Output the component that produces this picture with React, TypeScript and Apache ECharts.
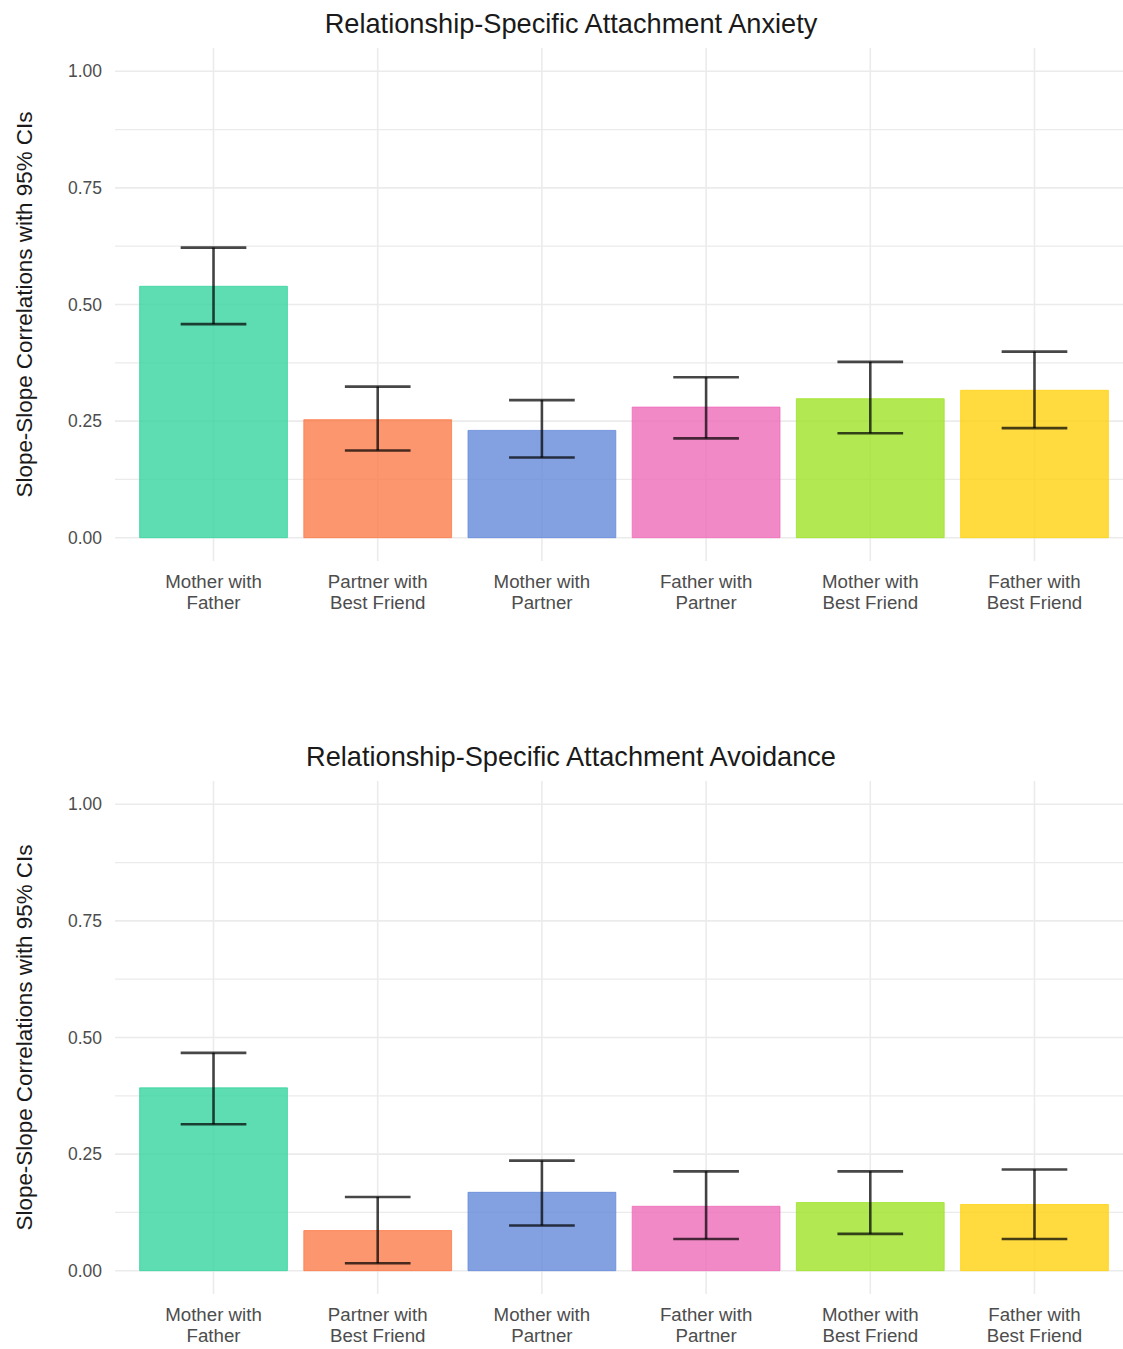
import React, { useEffect, useRef } from "react";
import * as echarts from "echarts";

// Pairings of relationship targets (x categories)
const categories = [
  "Mother with\nFather",
  "Partner with\nBest Friend",
  "Mother with\nPartner",
  "Father with\nPartner",
  "Mother with\nBest Friend",
  "Father with\nBest Friend",
];

const barColors = ["#36D49F", "#FB7C4A", "#648ADA", "#EF6BB9", "#9FE427", "#FFD210"];

// Attachment anxiety: slope-slope correlations and 95% CI bounds
const anxietyEstimate = [0.539, 0.253, 0.23, 0.28, 0.298, 0.316];
const anxietyLower = [0.458, 0.187, 0.172, 0.213, 0.224, 0.235];
const anxietyUpper = [0.622, 0.324, 0.295, 0.344, 0.377, 0.399];

// Attachment avoidance: slope-slope correlations and 95% CI bounds
const avoidanceEstimate = [0.392, 0.086, 0.168, 0.138, 0.146, 0.142];
const avoidanceLower = [0.314, 0.016, 0.097, 0.068, 0.079, 0.068];
const avoidanceUpper = [0.467, 0.158, 0.236, 0.213, 0.213, 0.217];

const panelTitles = [
  "Relationship-Specific Attachment Anxiety",
  "Relationship-Specific Attachment Avoidance",
];
const yAxisTitle = "Slope-Slope Correlations with 95% CIs";
const yTickValues = [0, 0.25, 0.5, 0.75, 1];
const yGridValues = [0, 0.125, 0.25, 0.375, 0.5, 0.625, 0.75, 0.875, 1];

const FONT = "'Liberation Sans', Arial, Helvetica, sans-serif";
const X_MIN = 0.4;
const X_MAX = 6.6;
const Y_MIN = -0.05;
const Y_MAX = 1.05;
const GRID_LEFT = 115;
const GRID_WIDTH = 1018;
const GRID_HEIGHT = 513;
const PANEL_TOPS = [48, 781];

const panels = [
  { est: anxietyEstimate, lo: anxietyLower, hi: anxietyUpper, title: panelTitles[0] },
  { est: avoidanceEstimate, lo: avoidanceLower, hi: avoidanceUpper, title: panelTitles[1] },
];

function buildOption(): echarts.EChartsOption {
  const grid = PANEL_TOPS.map((top) => ({
    left: GRID_LEFT,
    top,
    width: GRID_WIDTH,
    height: GRID_HEIGHT,
  }));

  const xAxis = panels.map((_, i) => ({
    gridIndex: i,
    type: "value" as const,
    min: X_MIN,
    max: X_MAX,
    axisLine: { show: false },
    axisTick: { show: false },
    splitLine: { show: false },
    axisLabel: {
      customValues: categories.map((_, k) => k + 1),
      formatter: (v: number) => categories[Math.round(v) - 1] ?? "",
      color: "#4D4D4D",
      fontFamily: FONT,
      fontSize: 18.7,
      lineHeight: 21,
      margin: 10,
    },
  }));

  const yAxis = panels.map((_, i) => ({
    gridIndex: i,
    type: "value" as const,
    min: Y_MIN,
    max: Y_MAX,
    axisLine: { show: false },
    axisTick: { show: false },
    splitLine: { show: false },
    axisLabel: {
      customValues: yTickValues,
      formatter: (v: number) => v.toFixed(2),
      color: "#4D4D4D",
      fontFamily: FONT,
      fontSize: 17.5,
      margin: 13,
      padding: [4, 0, 0, 0],
    },
  }));

  const series: any[] = [];
  panels.forEach((p, i) => {
    // horizontal grid lines (major at quarters, minor in between)
    series.push({
      type: "custom",
      xAxisIndex: i,
      yAxisIndex: i,
      z: 1,
      silent: true,
      data: yGridValues.map((v) => [X_MIN, v]),
      renderItem: (_params: any, api: any) => {
        const v = api.value(1);
        const a = api.coord([X_MIN, v]);
        const b = api.coord([X_MAX, v]);
        const major = Math.abs(v * 4 - Math.round(v * 4)) < 1e-6;
        return {
          type: "line",
          shape: { x1: a[0], y1: a[1], x2: b[0], y2: b[1] },
          style: { stroke: "#EBEBEB", lineWidth: major ? 1.6 : 1.3 },
        };
      },
    });
    // vertical grid lines at each category
    series.push({
      type: "custom",
      xAxisIndex: i,
      yAxisIndex: i,
      z: 1,
      silent: true,
      data: categories.map((_, k) => [k + 1, Y_MIN]),
      renderItem: (_params: any, api: any) => {
        const x = api.value(0);
        const a = api.coord([x, Y_MIN]);
        const b = api.coord([x, Y_MAX]);
        return {
          type: "line",
          shape: { x1: a[0], y1: a[1], x2: b[0], y2: b[1] },
          style: { stroke: "#EBEBEB", lineWidth: 1.6 },
        };
      },
    });
    // bars with 95% CI error bars
    series.push({
      type: "custom",
      xAxisIndex: i,
      yAxisIndex: i,
      z: 2,
      data: p.est.map((v, k) => [k + 1, v, p.lo[k], p.hi[k]]),
      renderItem: (params: any, api: any) => {
        const x = api.value(0);
        const v = api.value(1);
        const lo = api.value(2);
        const hi = api.value(3);
        const base = api.coord([x - 0.45, 0]);
        const top = api.coord([x + 0.45, v]);
        const color = barColors[params.dataIndex % barColors.length];
        const cLo = api.coord([x, lo]);
        const cHi = api.coord([x, hi]);
        const capL = api.coord([x - 0.2, lo])[0];
        const capR = api.coord([x + 0.2, lo])[0];
        const errStyle = { stroke: "rgba(0,0,0,0.72)", lineWidth: 2.6 };
        return {
          type: "group",
          children: [
            {
              type: "rect",
              shape: {
                x: base[0],
                y: top[1],
                width: top[0] - base[0],
                height: base[1] - top[1],
              },
              style: { fill: color, stroke: color, lineWidth: 1, opacity: 0.8 },
            },
            {
              type: "line",
              shape: { x1: cLo[0], y1: cLo[1], x2: cHi[0], y2: cHi[1] },
              style: errStyle,
            },
            {
              type: "line",
              shape: { x1: capL, y1: cLo[1], x2: capR, y2: cLo[1] },
              style: errStyle,
            },
            {
              type: "line",
              shape: { x1: capL, y1: cHi[1], x2: capR, y2: cHi[1] },
              style: errStyle,
            },
          ],
        };
      },
    });
  });

  const graphic: any[] = [];
  panels.forEach((p, i) => {
    const top = PANEL_TOPS[i];
    graphic.push({
      type: "text",
      x: 571,
      y: top - 25,
      style: {
        text: p.title,
        fill: "#1A1A1A",
        font: `27.2px ${FONT}`,
        align: "center",
        verticalAlign: "middle",
      },
    });
    graphic.push({
      type: "text",
      x: 24,
      y: top + GRID_HEIGHT / 2,
      rotation: Math.PI / 2,
      style: {
        text: yAxisTitle,
        fill: "#1A1A1A",
        font: `22.4px ${FONT}`,
        align: "center",
        verticalAlign: "middle",
      },
    });
  });

  return {
    animation: false,
    backgroundColor: "#FFFFFF",
    grid,
    xAxis,
    yAxis,
    series,
    graphic,
  };
}

export default function App() {
  const ref = useRef<HTMLDivElement>(null);

  useEffect(() => {
    if (!ref.current) return;
    const chart = echarts.init(ref.current, undefined, { renderer: "svg" });
    chart.setOption(buildOption());
    return () => chart.dispose();
  }, []);

  return (
    <div
      style={{
        position: "fixed",
        left: 0,
        top: 0,
        width: 1123,
        height: 1349,
        overflow: "hidden",
        background: "#FFFFFF",
      }}
    >
      <div ref={ref} style={{ width: 1140, height: 1349 }} />
    </div>
  );
}
